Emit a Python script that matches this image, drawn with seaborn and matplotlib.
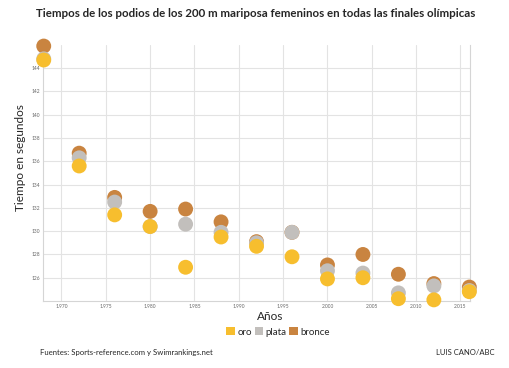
import matplotlib
matplotlib.use("Agg")
import matplotlib.pyplot as plt
from matplotlib.patches import Patch
import seaborn as sns
import pandas as pd

years = [1968, 1972, 1976, 1980, 1984, 1988, 1992, 1996, 2000, 2004, 2008, 2012, 2016]
oro = [144.7, 135.6, 131.4, 130.4, 126.9, 129.5, 128.7, 127.8, 125.9, 126.0, 124.2, 124.1, 124.8]
plata = [144.8, 136.3, 132.5, 130.4, 130.6, 129.9, 129.0, 129.9, 126.6, 126.4, 124.7, 125.3, 124.9]
bronce = [145.9, 136.7, 132.9, 131.7, 131.9, 130.8, 129.1, 129.9, 127.1, 128.0, 126.3, 125.5, 125.2]

medals = ["oro", "plata", "bronce"]
palette = {"oro": "#F7BE2E", "plata": "#C2BFBC", "bronce": "#C98440"}

df = pd.concat([
    pd.DataFrame({"Año": years, "Tiempo": oro, "medalla": "oro"}),
    pd.DataFrame({"Año": years, "Tiempo": plata, "medalla": "plata"}),
    pd.DataFrame({"Año": years, "Tiempo": bronce, "medalla": "bronce"}),
])

sns.set_style("white")
plt.rcParams["font.family"] = ["Lato", "DejaVu Sans"]

fig = plt.figure(figsize=(5.1, 3.68), dpi=100)
ax = fig.add_axes([0.084, 0.182, 0.838, 0.696])

# bronce underneath, oro on top
for m in ["bronce", "plata", "oro"]:
    sub = df[df["medalla"] == m]
    sns.scatterplot(data=sub, x="Año", y="Tiempo", color=palette[m], s=115,
                    edgecolor="none", ax=ax, legend=False, zorder=3, clip_on=False)

ax.set_xlim(1967.9, 2016.1)
ax.set_ylim(124.0, 146.0)
ax.set_xticks(range(1970, 2016, 5))
ax.set_xticklabels([f"{y / 1000:.3f}" for y in range(1970, 2016, 5)])
ax.set_yticks(range(126, 145, 2))
ax.tick_params(axis="both", labelsize=3.5, colors="#666666", length=0, pad=2)
ax.grid(True, color="#E3E3E3", linewidth=0.8)
ax.set_axisbelow(True)
for side in ["left", "bottom", "right"]:
    ax.spines[side].set_color("#D5D5D5")
    ax.spines[side].set_linewidth(0.8)
ax.spines["top"].set_visible(False)

ax.set_xlabel("Años", fontsize=8.5)
ax.xaxis.set_label_coords(0.532, -0.04)
ax.set_ylabel("Tiempo en segundos", fontsize=8.5)
ax.yaxis.set_label_coords(-0.04, 0.56)

handles = [Patch(facecolor=palette[m], edgecolor="none", label=m) for m in medals]
fig.legend(handles=handles, loc="center", bbox_to_anchor=(0.545, 0.098), ncol=3,
           frameon=False, fontsize=7, handlelength=0.9, handleheight=0.9,
           handletextpad=0.2, columnspacing=0.3, borderpad=0)

fig.text(0.502, 0.962, "Tiempos de los podios de los 200 m mariposa femeninos en todas las finales olímpicas",
         ha="center", va="center", fontsize=8.3, fontweight="bold")
fig.text(0.078, 0.043, "Fuentes: Sports-reference.com y Swimrankings.net", fontsize=5.6, va="center")
fig.text(0.97, 0.043, "LUIS CANO/ABC", fontsize=5.5, va="center", ha="right")

fig.savefig("out.png", dpi=100)
